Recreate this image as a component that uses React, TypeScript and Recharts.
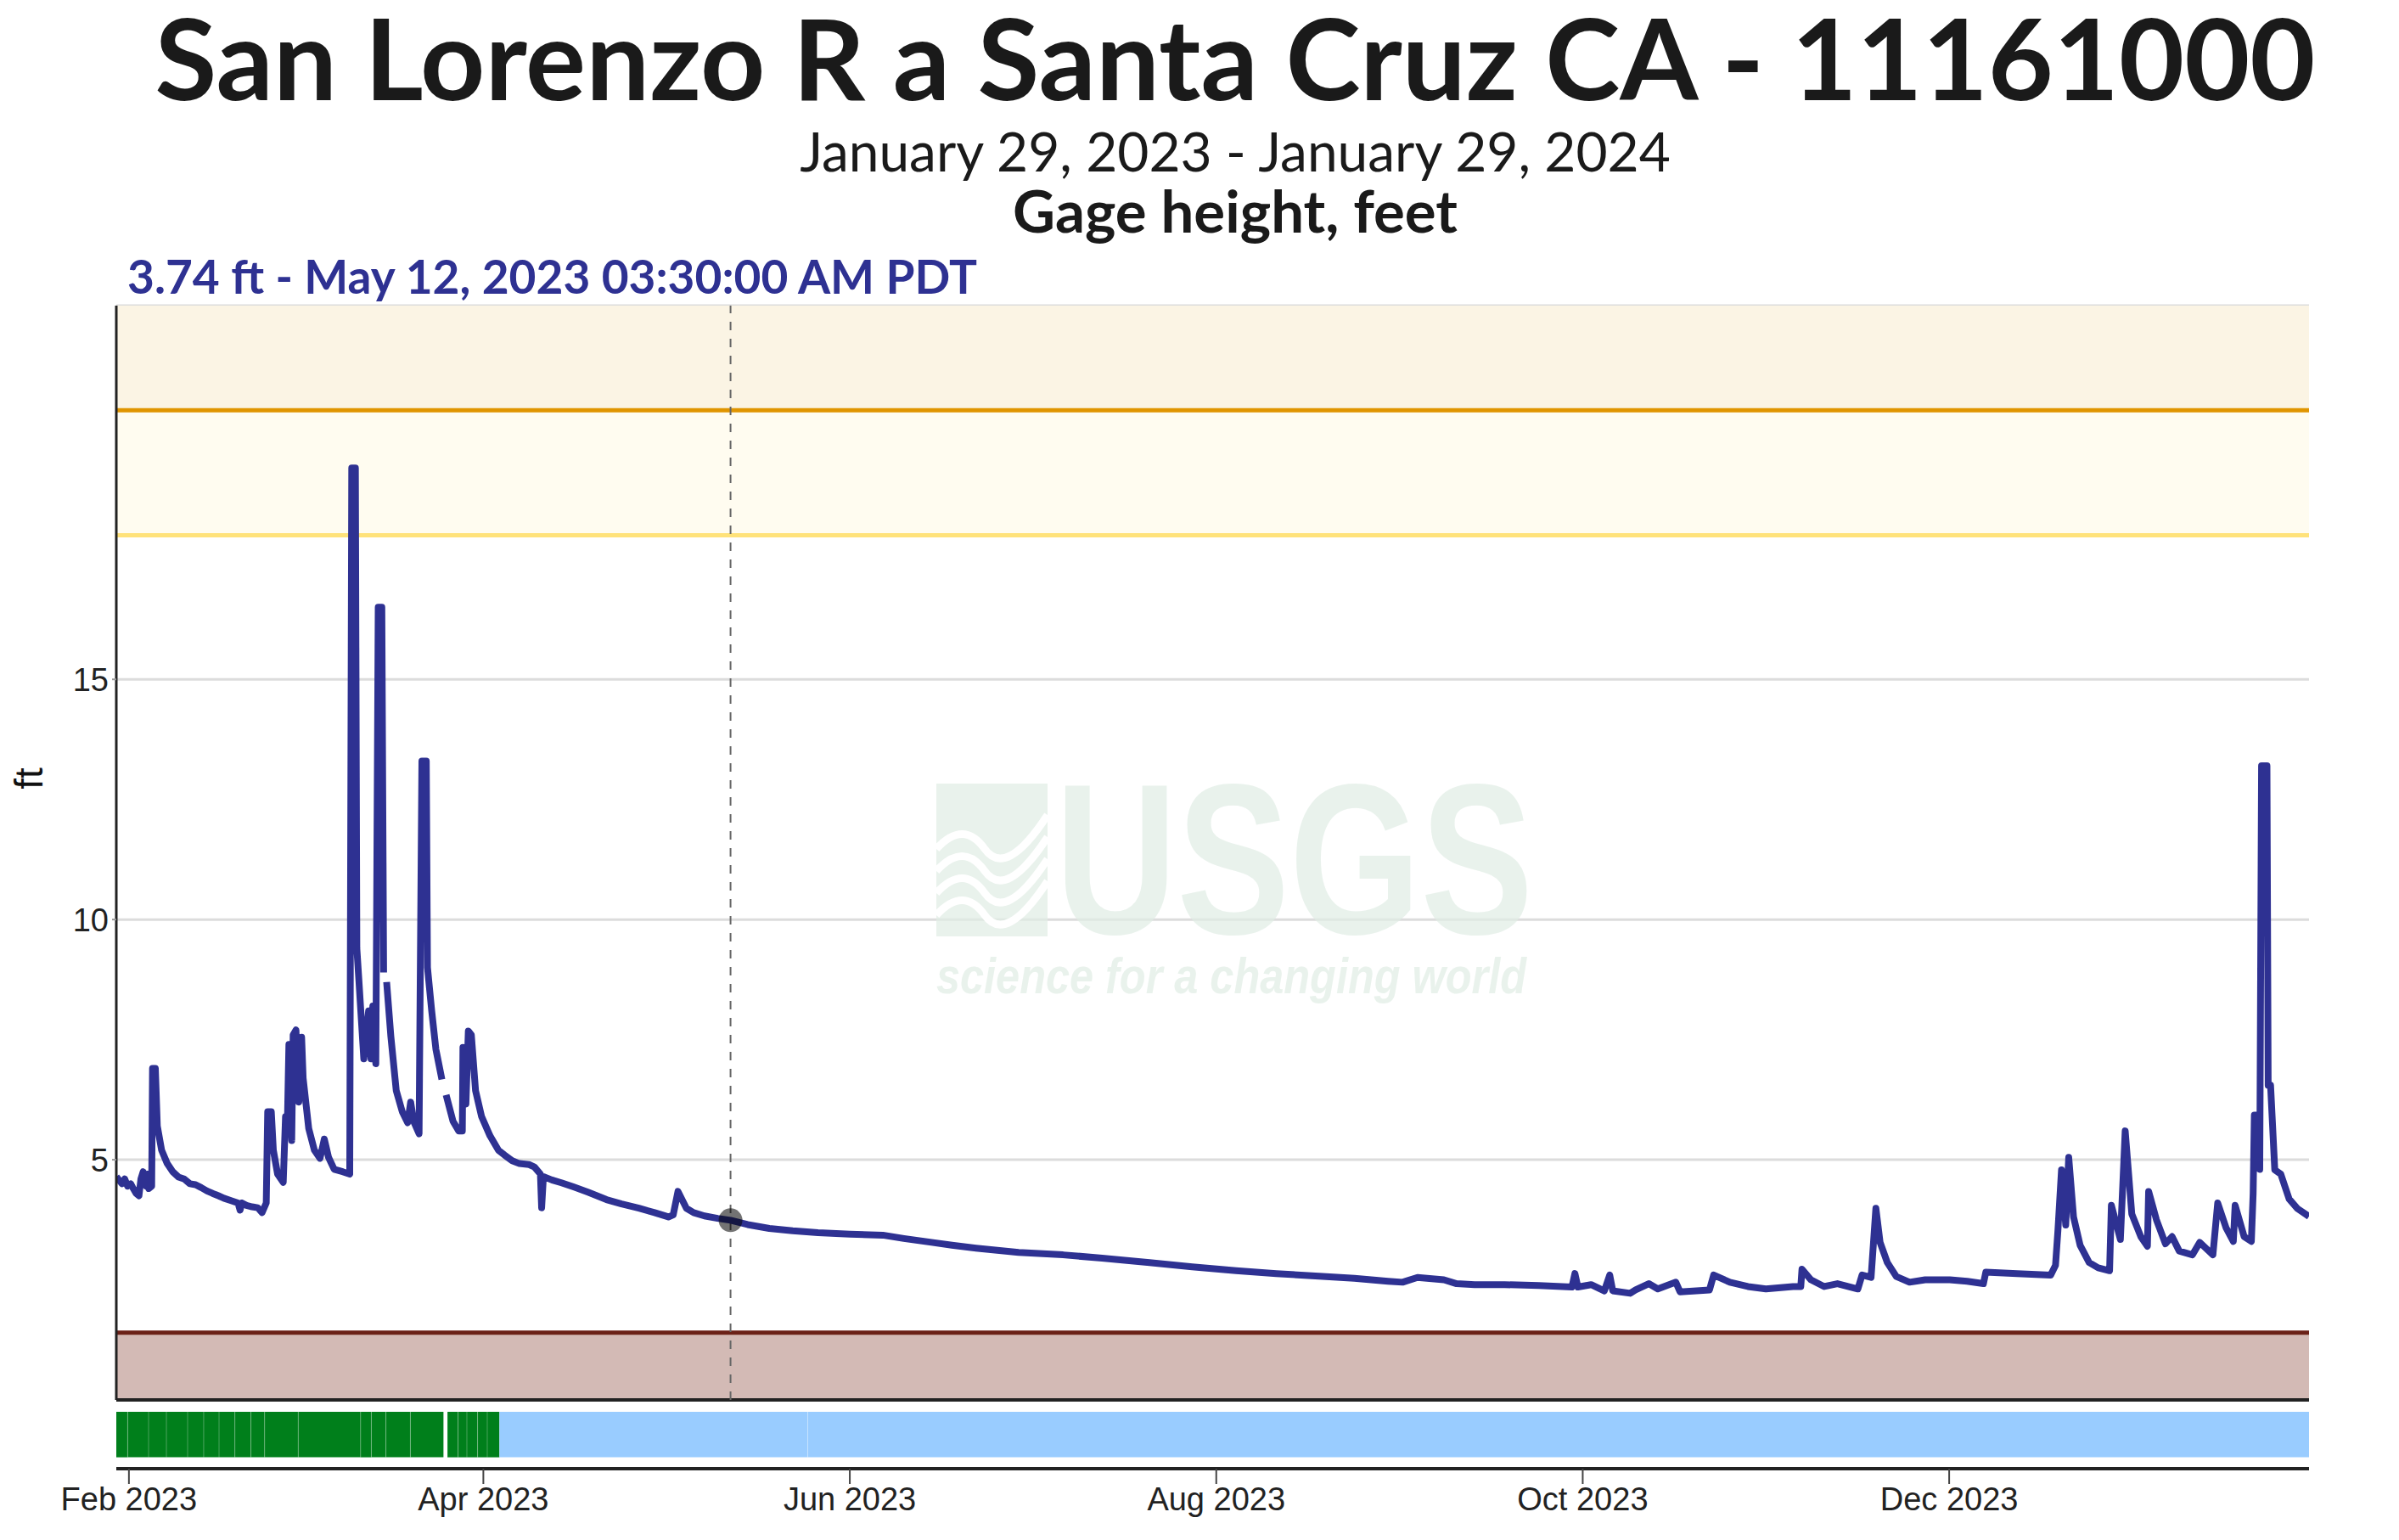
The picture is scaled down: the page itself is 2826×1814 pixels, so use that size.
import React from "react";
import {
  ComposedChart, Line, XAxis, YAxis, CartesianGrid,
  ReferenceArea, ReferenceLine, ReferenceDot,
} from "recharts";

// days since Jan 29, 2023 00:00 PST, and gage height in feet
const obsDay = [
  0.9, 1.84, 2.3, 2.78, 3.3, 3.73, 4.2, 4.67, 5.0, 5.37, 5.6, 5.85, 6.1, 6.32, 6.79, 6.93, 7.4, 7.73, 8.44, 9.38,
  10.3, 11.26, 12.2, 13.15, 14.1, 15.03, 16.0, 16.92, 17.9, 18.8, 20.0, 21.15, 21.5, 21.8, 22.57, 23.5, 24.45, 25.16, 25.86, 26.1,
  26.7, 27.04, 27.75, 28.69, 29.07, 29.4, 29.63, 30.1, 30.34, 30.81, 31.28, 31.75, 32.0, 32.93, 33.87, 34.81, 35.52, 36.23, 37.17, 38.58,
  39.76, 40.09, 40.7, 40.94, 41.3, 42.1, 42.9, 43.3, 43.6, 44.1, 44.5, 45.1, 45.4, 45.6, 45.9, 46.6, 47.5, 48.5, 49.4, 49.9,
  50.4, 51.3, 51.77, 52.5, 52.7, 53.4, 54.1, 55.1, 55.45, 55.8, 56.95, 57.9, 58.5, 58.6, 59.1, 59.5, 60.0, 60.7, 61.7, 63.1,
  64.5, 65.5, 66.8, 68.0, 69.6, 70.5, 71.5, 71.7, 72.0, 73.4, 75.0, 77.1, 79.5, 82.5, 85.0, 87.9, 90.5, 92.8, 93.6, 94.4,
  95.8, 97.0, 98.8, 101.0, 103.146, 106.0, 109.6, 113.5, 117.7, 123.0, 128.5, 132.0, 136.6, 140.0, 144.0, 151.1, 158.5, 165.0, 172.9, 180.0,
  187.3, 194.0, 201.7, 207.0, 212.6, 215.0, 217.5, 221.9, 224.0, 227.0, 232.0, 237.7, 243.2, 243.7, 244.2, 246.4, 248.6, 249.5, 250.0, 252.9,
  253.8, 256.0, 257.5, 260.5, 261.2, 266.1, 266.8, 269.5, 272.5, 275.5, 280.0, 281.3, 281.5, 283.0, 285.2, 287.4, 290.8, 291.5, 293.0, 293.8,
  294.5, 295.7, 297.2, 299.4, 302.0, 306.1, 309.0, 311.7, 312.1, 317.3, 322.9, 323.7, 324.1, 324.7, 325.4, 325.9, 326.7, 327.8, 329.3, 330.8,
  332.7, 333.0, 334.5, 335.3, 336.4, 337.9, 339.0, 339.2, 340.5, 342.0, 343.1, 344.3, 346.5, 347.7, 349.9, 350.7, 352.1, 353.3, 353.6, 355.1,
  356.3, 356.6, 356.8, 357.2, 357.7, 358.0, 358.9, 359.1, 359.5, 360.2, 361.2, 362.6, 364.0, 365.9,
];
const gageFt: (number | null)[] = [
  4.65, 4.5, 4.6, 4.45, 4.5, 4.4, 4.3, 4.25, 4.6, 4.75, 4.5, 4.45, 4.7, 4.4, 4.45, 6.9, 6.9, 5.7, 5.2, 4.92,
  4.75, 4.64, 4.6, 4.5, 4.48, 4.42, 4.35, 4.3, 4.25, 4.2, 4.15, 4.1, 3.95, 4.1, 4.05, 4.02, 4.0, 3.9, 4.1, 6.0,
  6.0, 5.2, 4.7, 4.53, 5.9, 5.9, 7.4, 5.4, 7.6, 7.7, 6.2, 7.55, 6.7, 5.65, 5.2, 5.03, 5.43, 5.05, 4.8, 4.75,
  4.7, 19.4, 19.4, 9.4, 8.7, 7.1, 8.1, 7.1, 8.2, 7.0, 16.5, 16.5, 8.9, null, 8.7, 7.57, 6.44, 6.0, 5.77, 6.2,
  5.8, 5.54, 13.3, 13.3, 9.0, 8.1, 7.3, 6.67, null, 6.35, 5.8, 5.6, 5.6, 7.34, 6.16, 7.68, 7.6, 6.44, 5.9, 5.5,
  5.2, 5.1, 4.98, 4.92, 4.9, 4.85, 4.7, 4.0, 4.65, 4.58, 4.52, 4.43, 4.32, 4.17, 4.08, 3.99, 3.9, 3.81, 3.85, 4.34,
  3.99, 3.9, 3.83, 3.78, 3.74, 3.65, 3.57, 3.52, 3.48, 3.45, 3.43, 3.36, 3.28, 3.22, 3.16, 3.07, 3.02, 2.95, 2.86, 2.77,
  2.69, 2.63, 2.57, 2.53, 2.47, 2.45, 2.55, 2.5, 2.42, 2.4, 2.4, 2.38, 2.35, 2.63, 2.35, 2.4, 2.27, 2.6, 2.27, 2.22,
  2.29, 2.42, 2.31, 2.45, 2.25, 2.29, 2.6, 2.45, 2.36, 2.31, 2.36, 2.36, 2.72, 2.5, 2.36, 2.42, 2.31, 2.6, 2.55, 3.99,
  3.28, 2.86, 2.57, 2.45, 2.5, 2.5, 2.47, 2.42, 2.66, 2.63, 2.6, 2.8, 3.52, 4.79, 3.64, 5.05, 3.81, 3.22, 2.86, 2.75,
  2.69, 4.05, 3.34, 5.6, 3.87, 3.4, 3.2, 4.34, 3.75, 3.25, 3.4, 3.1, 3.02, 3.28, 3.02, 4.1, 3.58, 3.3, 4.05, 3.4,
  3.3, 4.3, 5.93, 5.93, 4.8, 13.2, 13.2, 6.55, 6.55, 4.79, 4.7, 4.18, 3.98, 3.82,
];

const xDomain = [0.9, 365.9];
const tickDays = [3, 62, 123, 184, 245, 306];
const tickLabels = ["Feb 2023", "Apr 2023", "Jun 2023", "Aug 2023", "Oct 2023", "Dec 2023"];
const yTicks = [5, 10, 15];
const yMax = 22.78;

const upperStage = 20.6;
const middleStage = 18;
const lowStage = 1.4;

const hoverDay = 103.146;
const hoverFt = 3.74;

// approval strip: approved pieces, then provisional pieces
const approvedSegments = [
  [0.9, 2.79], [2.79, 6.27], [6.27, 9.24], [9.24, 12.77], [12.77, 15.45], [15.45, 18.0],
  [18.0, 20.64], [20.64, 23.31], [23.31, 25.59], [25.59, 31.18], [31.18, 41.57], [41.57, 43.35],
  [43.35, 45.78], [45.78, 49.85], [49.85, 55.36], [56.01, 57.79], [57.79, 59.26], [59.26, 61.04],
  [61.04, 62.65], [62.65, 64.68],
];
const provisionalSegments = [[64.68, 116.0], [116.0, 365.9]];

const series = obsDay.map((d, i) => ({ t: d, v: gageFt[i] }));

const BLUE = "#2e3192";
const tickFont = { fontSize: 38, fill: "#222", fontFamily: "Liberation Sans, Arial, sans-serif" };

export default function App() {
  return (
    <div style={{ position: "absolute", left: 0, top: 0, width: 2826, height: 1814, background: "#fff" }}>
      <div style={{ position: "absolute", left: 0, top: 0 }}>
        <ComposedChart width={2826} height={1660} data={series} margin={{ top: 360, right: 106, bottom: 11, left: 0 }}>
          <XAxis dataKey="t" type="number" domain={xDomain} hide allowDataOverflow />
          <YAxis
            type="number" domain={[0, yMax]} ticks={yTicks} width={137} allowDataOverflow
            axisLine={{ stroke: "#222", strokeWidth: 3 }} tickLine={{ stroke: "#999", strokeWidth: 2 }}
            tickSize={5} tickMargin={4} tick={tickFont}
          />
          <CartesianGrid vertical={false} stroke="#dcdcdc" strokeWidth={3} />
          <ReferenceArea y1={upperStage} y2={yMax} fill="#fbf4e4" fillOpacity={1} stroke="none" />
          <ReferenceArea y1={middleStage} y2={upperStage} fill="#fffcf0" fillOpacity={1} stroke="none" />
          <ReferenceArea y1={0} y2={lowStage} fill="#d3bab5" fillOpacity={1} stroke="none" />
          <ReferenceLine y={upperStage} stroke="#e09500" strokeWidth={5} />
          <ReferenceLine y={middleStage} stroke="#ffe27a" strokeWidth={5} />
          <ReferenceLine y={lowStage} stroke="#6b2117" strokeWidth={5} />
          <ReferenceLine y={0} stroke="#222" strokeWidth={4} />
          <ReferenceLine x={hoverDay} stroke="#666" strokeWidth={2} strokeDasharray="10 10" />
          <Line dataKey="v" type="linear" stroke={BLUE} strokeWidth={8} dot={false}
            isAnimationActive={false} connectNulls={false} strokeLinejoin="round" />
          <ReferenceDot x={hoverDay} y={hoverFt} r={14} fill="rgba(0,0,0,0.55)" stroke="none" />
        </ComposedChart>
      </div>

      <div style={{ position: "absolute", left: 0, top: 1655 }}>
        <ComposedChart width={2826} height={159} data={series} margin={{ top: 8, right: 106, bottom: 0, left: 137 }}>
          <XAxis
            dataKey="t" type="number" domain={xDomain} ticks={tickDays} allowDataOverflow
            tickFormatter={(d: number) => tickLabels[tickDays.indexOf(d)] ?? ""}
            height={84} tickSize={18} tickMargin={4} tick={tickFont}
            axisLine={{ stroke: "#222", strokeWidth: 4 }} tickLine={{ stroke: "#444", strokeWidth: 2 }}
          />
          <YAxis type="number" domain={[0, 1]} hide allowDataOverflow />
          {approvedSegments.map(([a, b], i) => (
            <ReferenceArea key={`a${i}`} x1={a} x2={b} y1={0.2} y2={1} fill="#007f1b" fillOpacity={1} stroke="none" />
          ))}
          {provisionalSegments.map(([a, b], i) => (
            <ReferenceArea key={`p${i}`} x1={a} x2={b} y1={0.2} y2={1} fill="#99ccff" fillOpacity={1} stroke="none" />
          ))}
          {[...approvedSegments.slice(1), ...provisionalSegments.slice(1)].map(([a], i) => (
            <ReferenceLine key={`s${i}`} stroke="#ffffff" strokeOpacity={0.28} strokeWidth={1}
              segment={[{ x: a, y: 0.2 }, { x: a, y: 1 }]} />
          ))}
          <Line dataKey="v" stroke="none" dot={false} isAnimationActive={false} />
        </ComposedChart>
      </div>

      <svg width={2826} height={1814} style={{ position: "absolute", left: 0, top: 0, pointerEvents: "none" }}>
        <g fontFamily="Lato, sans-serif" textAnchor="middle">
          <text x={1455} y={118} fontSize={133} fontWeight={700} fill="#1a1a1a">San Lorenzo R a Santa Cruz CA - 11161000</text>
          <text x={1455} y={202} fontSize={64} fontWeight={400} fill="#1a1a1a">January 29, 2023 - January 29, 2024</text>
          <text x={1455} y={274} fontSize={69} fontWeight={700} fill="#1a1a1a">Gage height, feet</text>
        </g>
        <text x={150} y={346} fontSize={55} fontWeight={700} fill={BLUE} fontFamily="Lato, sans-serif">
          3.74 ft - May 12, 2023 03:30:00 AM PDT
        </text>
        <text transform="translate(50,917) rotate(-90)" textAnchor="middle" fontSize={46}
          fontFamily="Liberation Sans, Arial, sans-serif" fill="#111">ft</text>

        <g fill="#dfece4" fillOpacity={0.7}>
          <rect x={1103} y={923} width={131} height={180} />
          <text x={1243} y={1100} fontSize={253} fontWeight={700} fontFamily="Liberation Sans, Arial, sans-serif"
            textLength={563} lengthAdjust="spacingAndGlyphs">USGS</text>
          <text x={1103} y={1170} fontSize={60} fontWeight={700} fontStyle="italic"
            fontFamily="Liberation Sans, Arial, sans-serif" textLength={695} lengthAdjust="spacingAndGlyphs">
            science for a changing world
          </text>
        </g>
        <g fill="none" stroke="#fff" strokeWidth={9}>
          {[0, 1, 2, 3].map((i) => (
            <path key={i} d={`M1103 ${1000 + i * 26} Q1135 ${965 + i * 26} 1160 ${1000 + i * 26} T1234 ${960 + i * 26}`} />
          ))}
        </g>
      </svg>
    </div>
  );
}
